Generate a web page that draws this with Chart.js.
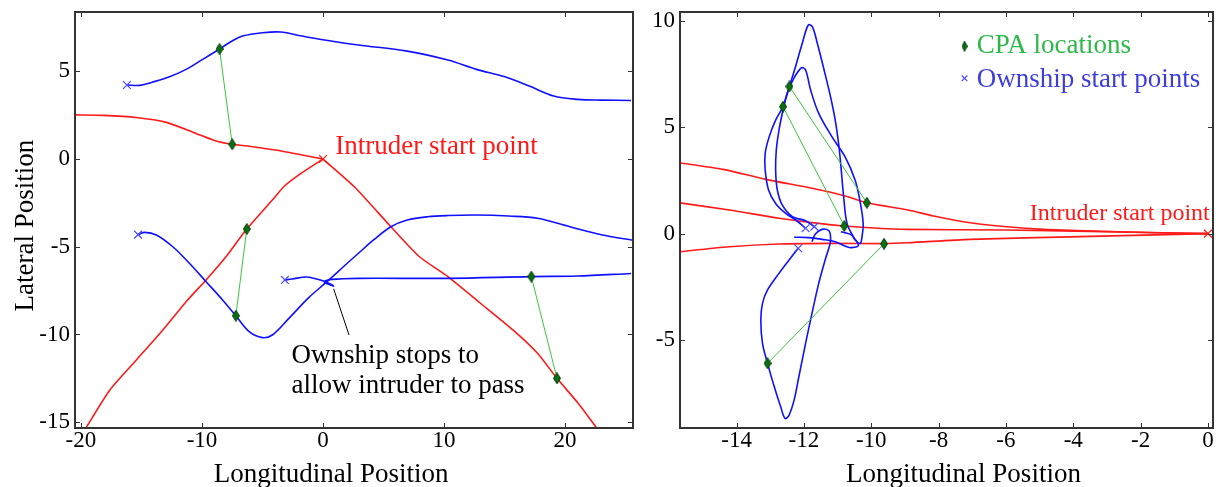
<!DOCTYPE html>
<html>
<head>
<meta charset="utf-8">
<script src="https://cdn.jsdelivr.net/npm/chart.js@4.4.1/dist/chart.umd.min.js"></script>
<style>
  html, body { margin: 0; padding: 0; background: #fff; }
  #wrap { position: relative; width: 1220px; height: 487px; overflow: hidden; }
  .panel { position: absolute; top: 0; height: 487px; }
  #left-panel { left: 0; width: 640px; }
  #right-panel { left: 640px; width: 580px; }
</style>
</head>
<body>
<div id="wrap">
  <div class="panel" id="left-panel"><canvas id="left-chart-id"></canvas></div>
  <div class="panel" id="right-panel"><canvas id="right-chart-id"></canvas></div>
</div>
<script>
// ===================== DATA =====================

// LEFT PANEL - tick labels
const leftXTicks = [-20, -10, 0, 10, 20];
const leftYTicks = [-15, -10, -5, 0, 5];

// LEFT PANEL - ownship tracks (blue), [x, y]
const leftOwnship1 = [[-16.2, 4.22], [-15.14, 4.2], [-14.05, 4.39], [-12.68, 4.69], [-11.31, 5.11], [-9.94, 5.68],
  [-8.55, 6.27], [-7.48, 6.74], [-6.66, 7.01], [-5.0, 7.2], [-3.5, 7.24], [-1.73, 7.01], [0, 6.8], [2.93, 6.5],
  [6.96, 6.15], [10.32, 5.64], [12.67, 5.11], [15.03, 4.69], [17.04, 4.16], [19.06, 3.59], [21.07, 3.4], [23, 3.36], [25.45, 3.34]];
const leftOwnship2 = [[-15.28, -4.31], [-14.73, -4.18], [-13.77, -4.33], [-12.41, -5.0], [-11.04, -5.94], [-9.66, -6.99],
  [-8.3, -8.03], [-7.2, -8.93], [-6.1, -9.84], [-5.01, -10.18], [-4.19, -10.03], [-2.82, -9.08], [-1.18, -7.9],
  [0.33, -6.99], [1.84, -6.04], [2.93, -5.37], [4.2, -4.6], [5.61, -3.86], [6.96, -3.48], [8.64, -3.29], [10.32, -3.22],
  [12.67, -3.19], [15.36, -3.25], [17.72, -3.38], [20.4, -3.86], [23.09, -4.33], [25.77, -4.65]];
const leftOwnship3 = [[-3.15, -6.89], [-2.55, -6.84], [-1.4, -6.72], [-0.62, -6.82], [0.2, -6.99], [0.88, -7.24],
  [0.3, -7.1], [0.1, -6.99], [0.74, -6.86], [2.93, -6.8], [10.32, -6.8], [17.21, -6.7], [21, -6.67], [25.45, -6.52]];

// LEFT PANEL - intruder tracks (red)
const leftIntruder1 = [[0, 0], [-1.73, 0.23], [-3.91, 0.51], [-5.83, 0.7], [-7.5, 0.84], [-8.84, 1.03], [-10.49, 1.46],
  [-12.95, 2.09], [-15.42, 2.37], [-18.16, 2.49], [-20.6, 2.52]];
const leftIntruder2 = [[0, 0], [-1.73, -0.78], [-3.2, -1.55], [-4.19, -2.34], [-6.3, -3.99], [-8.02, -5.57], [-9.66, -6.89],
  [-11.31, -8.13], [-13.23, -9.74], [-15.42, -11.45], [-17.61, -13.16], [-19.52, -15.25], [-19.7, -15.5]];
const leftIntruder3 = [[0, 0], [2.59, -1.58], [5.61, -3.86], [7.97, -5.57], [10.32, -6.7], [13.01, -8.22], [15.69, -9.74],
  [17.72, -11.07], [19.33, -12.5], [21.08, -13.92], [22.59, -15.31], [22.8, -15.5]];

// LEFT PANEL - CPA pairs and start points
const leftCpaOwnship = [[-8.55, 6.27], [-7.2, -8.93], [17.21, -6.7]];
const leftCpaIntruder = [[-7.5, 0.84], [-6.3, -3.99], [19.33, -12.5]];
const leftOwnshipStarts = [[-16.2, 4.22], [-15.28, -4.31], [-3.15, -6.89]];
const leftIntruderStart = [[0, 0]];
const leftPointer = [[0.88, -7.4], [2.15, -10.03]];

// RIGHT PANEL - tick labels
const rightXTicks = [-14, -12, -10, -8, -6, -4, -2, 0];
const rightYTicks = [-5, 0, 5, 10];

// RIGHT PANEL - ownship tracks (blue)
const rightOwnship1 = [[-11.95, 0.25], [-12.24, 0.64], [-12.54, 0.95], [-12.84, 1.42], [-13.05, 2.05], [-13.15, 2.99],
  [-13.15, 3.77], [-13.03, 4.56], [-12.84, 5.34], [-12.62, 5.97], [-12.43, 6.92], [-12.25, 7.85], [-12.05, 8.94],
  [-11.87, 9.81], [-11.75, 9.73], [-11.6, 8.94], [-11.4, 7.69], [-11.21, 6.44], [-11.07, 5.34], [-10.97, 4.25],
  [-10.9, 3.15], [-10.82, 1.74], [-10.72, 0.48], [-10.53, -0.15], [-10.38, -0.54], [-10.58, -0.66], [-10.78, -0.58],
  [-11.07, -0.38], [-11.46, -0.27], [-11.85, -0.19], [-12.29, -0.17]];
const rightOwnship2 = [[-11.69, 0.33], [-11.95, 0.6], [-12.34, 0.8], [-12.64, 1.34], [-12.79, 2.05], [-12.84, 2.99],
  [-12.82, 3.93], [-12.74, 4.87], [-12.62, 5.81], [-12.5, 6.59], [-12.3, 7.3], [-12.07, 7.8], [-11.95, 7.69],
  [-11.8, 6.75], [-11.56, 5.65], [-11.17, 4.56], [-10.78, 3.62], [-10.48, 2.52], [-10.34, 1.58], [-10.24, 0.48],
  [-10.28, -0.2], [-10.33, -0.46], [-10.48, -0.3], [-10.58, -0.07], [-10.78, 0.04], [-10.9, 0.09]];
const rightOwnship3 = [[-12.17, -0.69], [-12.44, -1.24], [-12.74, -1.87], [-13.08, -2.65], [-13.23, -3.28], [-13.28, -4.06],
  [-13.23, -5.16], [-13.08, -6.1], [-12.88, -7.2], [-12.69, -8.14], [-12.56, -8.69], [-12.44, -8.53], [-12.29, -7.82],
  [-12.15, -6.73], [-11.95, -5.16], [-11.76, -3.75], [-11.56, -2.34], [-11.37, -1.24], [-11.22, -0.46], [-11.21, -0.1],
  [-11.26, 0.14], [-11.46, 0.2], [-11.66, -0.02], [-11.76, -0.38]];

// RIGHT PANEL - intruder tracks (red)
const rightIntruder1 = [[0, 0], [-1.62, 0.04], [-3.25, 0.11], [-4.88, 0.2], [-5.97, 0.32], [-7.06, 0.51], [-8.15, 0.83],
  [-8.91, 1.11], [-10.13, 1.45], [-10.77, 1.77], [-11.76, 2.13], [-13.13, 2.55], [-14.4, 3.02], [-15.8, 3.35]];
const rightIntruder2 = [[0, 0], [-2.7, 0.08], [-5.97, 0.17], [-8.91, 0.2], [-9.79, 0.25], [-10.8, 0.36], [-11.56, 0.48],
  [-12.74, 0.72], [-14.21, 1.11], [-15.8, 1.47]];
const rightIntruder3 = [[0, 0], [-3.79, -0.14], [-7.06, -0.27], [-8.91, -0.43], [-9.62, -0.47], [-11.26, -0.46],
  [-12.74, -0.49], [-14.21, -0.62], [-15.8, -0.87]];

// RIGHT PANEL - CPA pairs and start points
const rightCpaOwnship = [[-12.43, 6.92], [-12.62, 5.97], [-13.08, -6.1]];
const rightCpaIntruder = [[-10.13, 1.45], [-10.8, 0.36], [-9.62, -0.48]];
const rightOwnshipStarts = [[-11.95, 0.25], [-11.69, 0.33], [-12.17, -0.69]];
const rightIntruderStart = [[0, 0]];

// ===================== STYLE =====================
const FONT = "'Liberation Serif', 'Times New Roman', serif";
const BLUE = '#1010ff';
const RED = '#ff1a1a';
const GREEN_LINE = '#3cc43c';
const FRAME = '#333333';

// elongated diamond used for CPA markers
function makeDiamond(w, h) {
  const c = document.createElement('canvas');
  c.width = w; c.height = h;
  const g = c.getContext('2d');
  g.beginPath();
  g.moveTo(w / 2, 0.5); g.lineTo(w - 0.5, h / 2); g.lineTo(w / 2, h - 0.5); g.lineTo(0.5, h / 2); g.closePath();
  g.fillStyle = '#0b6e12'; g.fill();
  g.strokeStyle = '#023d06'; g.lineWidth = 1; g.stroke();
  return c;
}
const diamond = makeDiamond(8, 12);
const legendDiamond = makeDiamond(6, 11);

const toXY = pts => pts.map(p => ({ x: p[0], y: p[1] }));

function track(points, color, order, tension) {
  return { data: toXY(points), showLine: true, borderColor: color, borderWidth: 1.6, pointRadius: 0,
    tension: tension == null ? 0.35 : tension, order };
}
function connectors(own, intr) {
  return own.map((p, i) => ({ data: toXY([p, intr[i]]), showLine: true, borderColor: GREEN_LINE, borderWidth: 1, pointRadius: 0, tension: 0, order: 1 }));
}
function cpaMarkers(own, intr) {
  return { data: toXY(own.concat(intr)), showLine: false, pointStyle: diamond, pointRadius: 6, order: 0 };
}
function crosses(points, color) {
  return { data: toXY(points), showLine: false, pointStyle: 'crossRot', pointRadius: 5.5, borderColor: color, borderWidth: 1.2, order: 0 };
}

// box, inward ticks and free text
const decorPlugin = {
  id: 'decor',
  afterDatasetsDraw(chart, args, opts) {
    const { ctx, chartArea: a } = chart;
    const x = chart.scales.x, y = chart.scales.y;
    ctx.save();
    ctx.strokeStyle = FRAME;
    ctx.lineWidth = 1;
    ctx.beginPath();
    x.ticks.forEach(t => {
      const px = Math.round(x.getPixelForValue(t.value)) + 0.5;
      ctx.moveTo(px, a.bottom); ctx.lineTo(px, a.bottom - 5);
      ctx.moveTo(px, a.top); ctx.lineTo(px, a.top + 5);
    });
    y.ticks.forEach(t => {
      const py = Math.round(y.getPixelForValue(t.value)) + 0.5;
      ctx.moveTo(a.left, py); ctx.lineTo(a.left + 5, py);
      ctx.moveTo(a.right, py); ctx.lineTo(a.right - 5, py);
    });
    ctx.stroke();
    ctx.lineWidth = 2;
    ctx.strokeRect(a.left, a.top, a.right - a.left, a.bottom - a.top);

    (opts.texts || []).forEach(t => {
      ctx.font = t.size + 'px ' + FONT;
      ctx.fillStyle = t.color || '#000';
      ctx.textAlign = t.align || 'left';
      ctx.textBaseline = 'alphabetic';
      const px = t.px != null ? t.px : x.getPixelForValue(t.at[0]);
      const py = t.py != null ? t.py : y.getPixelForValue(t.at[1]);
      if (t.rotate) {
        ctx.save(); ctx.translate(px, py); ctx.rotate(-Math.PI / 2);
        ctx.fillText(t.text, 0, 0); ctx.restore();
      } else {
        ctx.fillText(t.text, px, py);
      }
    });
    (opts.marks || []).forEach(m => {
      ctx.strokeStyle = m.color || '#000';
      ctx.lineWidth = 1.2;
      Chart.helpers.drawPoint(ctx, { pointStyle: m.style, radius: m.radius, rotation: 0, borderWidth: 1.2 },
        x.getPixelForValue(m.at[0]), y.getPixelForValue(m.at[1]));
    });
    ctx.restore();
  }
};

function axis(min, max, tickVals, fitSize, horizontal) {
  const cfg = {
    type: 'linear', min, max,
    afterBuildTicks: s => { s.ticks = tickVals.map(v => ({ value: v })); },
    ticks: { color: '#000', font: { family: FONT, size: 23, lineHeight: 1 }, autoSkip: false, maxRotation: 0,
      callback: v => String(v) },
    border: { display: false }
  };
  if (horizontal) {
    cfg.ticks.padding = 1;
    cfg.grid = { display: true, drawOnChartArea: false, drawTicks: false, color: 'transparent' };
    cfg.afterFit = s => { s.height = fitSize; s.paddingLeft = 0; s.paddingRight = 0; };
  } else {
    cfg.ticks.padding = 0;
    cfg.grid = { display: true, drawOnChartArea: false, drawTicks: true, tickLength: 5, color: 'transparent', tickColor: 'transparent' };
    cfg.afterFit = s => { s.width = fitSize; s.paddingTop = 0; s.paddingBottom = 0; };
  }
  return cfg;
}

function baseOptions(xAxis, yAxis, padRight, decor) {
  return {
    responsive: true,
    maintainAspectRatio: false,
    animation: false,
    layout: { padding: { top: 12, right: padRight, bottom: 0, left: 0 } },
    plugins: { legend: { display: false }, tooltip: { enabled: false }, decor },
    scales: { x: xAxis, y: yAxis }
  };
}

function initTrajectoryFigure() {

  // ===================== LEFT PANEL =====================
  const leftCtx = document.getElementById('left-chart-id');
  if (leftCtx) {
    new Chart(leftCtx, {
      type: 'scatter',
      data: {
        datasets: [
          cpaMarkers(leftCpaOwnship, leftCpaIntruder),
          crosses(leftOwnshipStarts, '#4a4aff'),
          crosses(leftIntruderStart, RED),
          ...connectors(leftCpaOwnship, leftCpaIntruder),
          track(leftIntruder1, RED, 3, 0.25),
          track(leftIntruder2, RED, 3, 0.2),
          track(leftIntruder3, RED, 3, 0.2),
          track(leftOwnship1, BLUE, 2),
          track(leftOwnship2, BLUE, 2),
          track(leftOwnship3, BLUE, 2),
          { data: toXY(leftPointer), showLine: true, borderColor: '#000', borderWidth: 1, pointRadius: 0, order: 1 }
        ]
      },
      options: baseOptions(
        axis(-20.49, 25.61, leftXTicks, 59, true),
        axis(-15.33, 8.38, leftYTicks, 75, false),
        4,
        {
          texts: [
            { text: 'Intruder start point', at: [1.02, 0.27], size: 27, color: RED },
            { text: 'Ownship stops to', at: [-2.61, -11.64], size: 27 },
            { text: 'allow intruder to pass', at: [-2.61, -13.35], size: 27 },
            { text: 'Longitudinal Position', at: [0.67, 0], py: 482, size: 27, align: 'center' },
            { text: 'Lateral Position', at: [0, -3.8], px: 33, size: 27, align: 'center', rotate: true }
          ]
        }
      ),
      plugins: [decorPlugin]
    });
  }

  // ===================== RIGHT PANEL =====================
  const rightCtx = document.getElementById('right-chart-id');
  if (rightCtx) {
    new Chart(rightCtx, {
      type: 'scatter',
      data: {
        datasets: [
          cpaMarkers(rightCpaOwnship, rightCpaIntruder),
          crosses(rightOwnshipStarts, '#4a4aff'),
          crosses(rightIntruderStart, RED),
          ...connectors(rightCpaOwnship, rightCpaIntruder),
          track(rightIntruder1, RED, 3, 0.25),
          track(rightIntruder2, RED, 3, 0.25),
          track(rightIntruder3, RED, 3, 0.25),
          track(rightOwnship1, BLUE, 2),
          track(rightOwnship2, BLUE, 2),
          track(rightOwnship3, BLUE, 2)
        ]
      },
      options: baseOptions(
        axis(-15.68, 0.15, rightXTicks, 59, true),
        axis(-9.14, 10.42, rightYTicks, 40, false),
        2,
        {
          texts: [
            { text: 'Intruder start point', at: [-5.29, 0.64], size: 24, color: RED },
            { text: 'CPA locations', at: [-6.87, 8.48], size: 27, color: '#2db84a' },
            { text: 'Ownship start points', at: [-6.87, 6.91], size: 27, color: '#3d3ddb' },
            { text: 'Longitudinal Position', at: [-7.26, 0], py: 482, size: 27, align: 'center' }
          ],
          marks: [
            { style: legendDiamond, radius: 5, at: [-7.23, 8.81] },
            { style: 'crossRot', radius: 4, at: [-7.23, 7.3], color: '#4a4aff' }
          ]
        }
      ),
      plugins: [decorPlugin]
    });
  }
}

document.addEventListener('DOMContentLoaded', initTrajectoryFigure);
</script>
</body>
</html>
